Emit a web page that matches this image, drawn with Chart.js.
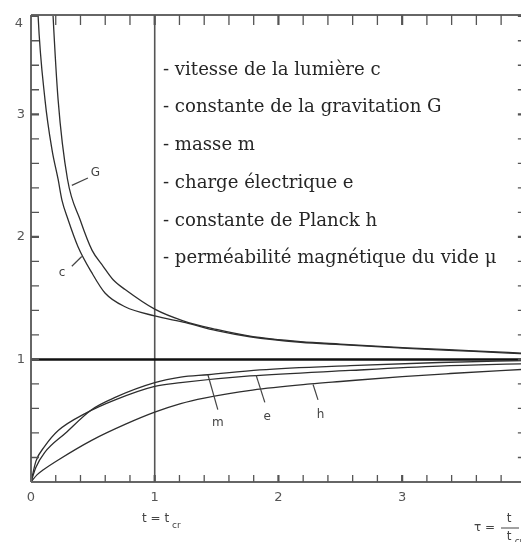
<!DOCTYPE html>
<html>
<head>
<meta charset="utf-8">
<script src="https://cdn.jsdelivr.net/npm/chart.js@4/dist/chart.umd.min.js"></script>
<style>
html,body{margin:0;padding:0;background:#fff;overflow:hidden;}
canvas{display:block;}
</style>
</head>
<body>
<canvas id="c" width="538" height="542"></canvas>
<script>
// ---- data ----
const cX = [0.04, 0.057, 0.113, 0.17, 0.219, 0.25, 0.30, 0.38, 0.49, 0.60, 0.76, 1.0, 1.25, 1.5, 1.77, 2.18, 2.5, 3.04, 3.58, 4.0];
const cY = [4.3, 3.81, 3.12, 2.71, 2.47, 2.30, 2.14, 1.92, 1.71, 1.54, 1.43, 1.355, 1.30, 1.235, 1.185, 1.14, 1.12, 1.09, 1.065, 1.045];
const gX = [0.165, 0.178, 0.219, 0.295, 0.397, 0.494, 0.583, 0.664, 0.761, 1.0, 1.23, 1.5, 1.77, 2.18, 2.5, 3.04, 3.58, 4.0];
const gY = [4.1, 3.81, 3.12, 2.47, 2.14, 1.89, 1.76, 1.65, 1.57, 1.41, 1.315, 1.245, 1.19, 1.145, 1.125, 1.095, 1.07, 1.05];
const mX = [0, 0.04, 0.11, 0.28, 0.49, 0.68, 1.0, 1.21, 1.43, 1.85, 2.58, 3.3, 4.0];
const mY = [0, 0.12, 0.24, 0.40, 0.59, 0.69, 0.81, 0.855, 0.875, 0.915, 0.95, 0.975, 0.99];
const eX = [0, 0.04, 0.11, 0.22, 0.44, 0.68, 1.0, 1.21, 1.77, 2.58, 3.3, 4.0];
const eY = [0, 0.17, 0.29, 0.42, 0.56, 0.67, 0.78, 0.81, 0.865, 0.91, 0.945, 0.965];
const hX = [0, 0.05, 0.1, 0.22, 0.49, 0.76, 1.0, 1.21, 1.4, 1.79, 2.26, 2.5, 3.0, 3.39, 4.0];
const hY = [0, 0.06, 0.10, 0.18, 0.34, 0.47, 0.57, 0.64, 0.685, 0.75, 0.80, 0.82, 0.86, 0.885, 0.92];
const refLineY = 1;      // horizontal reference line
const critX = 1;         // vertical line t = t_cr
const xTickValues = [0, 1, 2, 3, 4];
const xTickLabels = ['0', '1', '2', '3', '4'];
const yTickValues = [1, 2, 3];
const yTickLabels = ['1', '2', '3'];
const yTopLabel = '4';
const legendLines = [
  '- vitesse de la lumière c',
  '- constante de la gravitation G',
  '- masse m',
  '- charge électrique e',
  '- constante de Planck h',
  '- perméabilité magnétique du vide μ'
];
// curve labels: [text, label x, label y, leader from x,y, leader to x,y]
const curveLabels = [
  ['G', 0.52, 2.52, 0.33, 2.42, 0.46, 2.48],
  ['c', 0.25, 1.71, 0.33, 1.76, 0.41, 1.84],
  ['m', 1.51, 0.48, 1.43, 0.875, 1.51, 0.59],
  ['e', 1.91, 0.53, 1.82, 0.87, 1.89, 0.65],
  ['h', 2.34, 0.55, 2.28, 0.795, 2.32, 0.67]
];

const pts = (xs, ys) => xs.map((x, i) => ({x: x, y: ys[i]}));
const lineCol = '#2e2e2e';
const mk = (label, xs, ys) => ({
  label, data: pts(xs, ys), borderColor: lineCol, borderWidth: 1.3,
  pointRadius: 0, tension: 0.4, cubicInterpolationMode: 'monotone', fill: false, clip: 0
});

const decor = {
  id: 'decor',
  beforeDatasetsDraw(chart) {
    const {ctx, chartArea: a, scales: {x, y}} = chart;
    ctx.save();
    ctx.strokeStyle = '#555'; ctx.lineWidth = 1.6;
    const vx = x.getPixelForValue(critX);
    ctx.beginPath(); ctx.moveTo(vx, a.top); ctx.lineTo(vx, a.bottom); ctx.stroke();
    ctx.strokeStyle = '#111'; ctx.lineWidth = 2.6;
    const hy = y.getPixelForValue(refLineY);
    ctx.beginPath(); ctx.moveTo(a.left, hy); ctx.lineTo(a.right, hy); ctx.stroke();
    ctx.restore();
  },
  afterDatasetsDraw(chart) {
    const {ctx, chartArea: a, scales: {x, y}} = chart;
    ctx.save();
    ctx.strokeStyle = '#666'; ctx.lineWidth = 2;
    ctx.beginPath();
    ctx.moveTo(a.left, a.top); ctx.lineTo(a.right, a.top);
    ctx.moveTo(a.left, a.top); ctx.lineTo(a.left, a.bottom);
    ctx.moveTo(a.left, a.bottom); ctx.lineTo(a.right, a.bottom);
    ctx.stroke();
    for (let i = 1; i <= 20; i++) {
      const v = i * 0.2;
      const major = i % 5 === 0;
      ctx.lineWidth = major ? 2.2 : 1.3;
      ctx.strokeStyle = '#555';
      const px = x.getPixelForValue(v);
      if (px <= a.right + 0.5) {
        ctx.beginPath();
        ctx.moveTo(px, a.bottom); ctx.lineTo(px, a.bottom - 7);
        ctx.moveTo(px, a.top); ctx.lineTo(px, a.top + 10);
        ctx.stroke();
      }
      const py = y.getPixelForValue(v);
      if (py >= a.top - 0.5) {
        ctx.beginPath();
        ctx.moveTo(a.left, py); ctx.lineTo(a.left + 8, py);
        ctx.moveTo(a.right, py); ctx.lineTo(a.right - 8, py);
        ctx.stroke();
      }
    }
    ctx.strokeStyle = '#444'; ctx.lineWidth = 1.2; ctx.fillStyle = '#444';
    ctx.font = '12px "DejaVu Sans", sans-serif';
    ctx.textAlign = 'center'; ctx.textBaseline = 'middle';
    curveLabels.forEach(([t, lx, ly, x1, y1, x2, y2]) => {
      ctx.beginPath();
      ctx.moveTo(x.getPixelForValue(x1), y.getPixelForValue(y1));
      ctx.lineTo(x.getPixelForValue(x2), y.getPixelForValue(y2));
      ctx.stroke();
      ctx.fillText(t, x.getPixelForValue(lx), y.getPixelForValue(ly));
    });
    // legend text block, sized to the reference width
    ctx.fillStyle = '#262626';
    ctx.textAlign = 'left'; ctx.textBaseline = 'middle';
    ctx.font = '20px "DejaVu Serif", serif';
    const w = ctx.measureText(legendLines[5]).width;
    const fs = Math.min(22, 20 * 333 / w);
    ctx.font = fs.toFixed(1) + 'px "DejaVu Serif", serif';
    legendLines.forEach((s, i) => ctx.fillText(s, 163, 70 + i * 37.7));
    ctx.fillStyle = '#555';
    ctx.font = '13px "DejaVu Sans", sans-serif';
    ctx.textAlign = 'center';
    ctx.fillText(yTopLabel, 19, 24);
    ctx.fillStyle = '#444';
    ctx.font = '12px "DejaVu Sans", sans-serif';
    ctx.textAlign = 'left';
    ctx.fillText('t = t', 142, 519);
    ctx.font = '9px "DejaVu Sans", sans-serif';
    ctx.fillText('cr', 172, 526);
    ctx.font = '12px "DejaVu Sans", sans-serif';
    ctx.fillText('τ =', 474, 528);
    ctx.textAlign = 'center';
    ctx.fillText('t', 509, 519);
    ctx.fillText('t', 509, 537);
    ctx.lineWidth = 1; ctx.strokeStyle = '#444';
    ctx.beginPath(); ctx.moveTo(501, 528); ctx.lineTo(519, 528); ctx.stroke();
    ctx.font = '9px "DejaVu Sans", sans-serif';
    ctx.fillText('cr', 519, 542);
    ctx.restore();
  }
};

new Chart(document.getElementById('c'), {
  type: 'line',
  data: { datasets: [mk('c', cX, cY), mk('G', gX, gY), mk('m', mX, mY), mk('e', eX, eY), mk('h', hX, hY)] },
  options: {
    responsive: false, animation: false, devicePixelRatio: 1,
    layout: { padding: { top: 15, right: 0, left: 0, bottom: 0 } },
    plugins: { legend: { display: false }, tooltip: { enabled: false } },
    scales: {
      x: {
        type: 'linear', min: 0, max: 4,
        grid: { display: false, drawTicks: false }, border: { display: false },
        afterBuildTicks: s => { s.ticks = xTickValues.map(v => ({value: v})); },
        afterFit: s => { s.height = 60; },
        ticks: { padding: 8, color: '#555', font: { size: 13, family: '"DejaVu Sans", sans-serif' },
                 callback: (v) => xTickLabels[xTickValues.indexOf(v)], maxRotation: 0 }
      },
      y: {
        type: 'linear', min: 0, max: 3.81,
        grid: { display: false, drawTicks: false }, border: { display: false },
        afterBuildTicks: s => { s.ticks = yTickValues.map(v => ({value: v})); },
        afterFit: s => { s.width = 31; },
        ticks: { padding: 6, color: '#555', font: { size: 13, family: '"DejaVu Sans", sans-serif' },
                 callback: (v) => yTickLabels[yTickValues.indexOf(v)] }
      }
    }
  },
  plugins: [decor]
});
</script>
</body>
</html>
